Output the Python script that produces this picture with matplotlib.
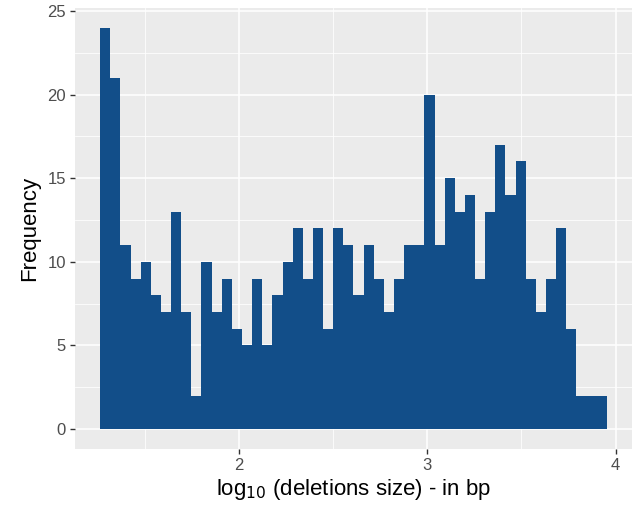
import numpy as np
import matplotlib.pyplot as plt

# histogram of log10 deletion sizes (counts)
counts = [24, 21, 11, 9, 10, 8, 7, 13, 7, 2,
          10, 7, 9, 6, 5, 9, 5, 8, 10, 12,
          9, 12, 6, 12, 11, 8, 11, 9, 7, 9,
          11, 11, 20, 11, 15, 13, 14, 9, 13, 17,
          14, 16, 9, 7, 9, 12, 6, 2, 2, 2]
bin_start = 1.263
bin_end = 3.953
x_ticks = [2, 3, 4]
y_ticks = [0, 5, 10, 15, 20, 25]

plt.rcParams['font.family'] = ['Liberation Sans', 'DejaVu Sans']

edges = np.linspace(bin_start, bin_end, len(counts) + 1)
width = edges[1] - edges[0]

fig = plt.figure(figsize=(6.34, 5.12), dpi=100)
ax = fig.add_axes([0.118, 0.123, 0.879, 0.862])
ax.set_facecolor('#EBEBEB')

ax.bar(edges[:-1], counts, width=width, align='edge', color='#124E89',
       linewidth=0, zorder=3)

span = bin_end - bin_start
ax.set_xlim(bin_start - 0.05 * span, bin_end + 0.05 * span)
ax.set_ylim(-0.05 * max(counts), max(counts) * 1.05)

ax.set_xticks(x_ticks)
ax.set_yticks(y_ticks)
ax.set_xticks([1.5, 2.5, 3.5], minor=True)
ax.set_yticks([2.5, 7.5, 12.5, 17.5, 22.5], minor=True)
ax.grid(which='major', color='white', linewidth=1.1, zorder=0)
ax.grid(which='minor', color='white', linewidth=0.55, zorder=0)
ax.set_axisbelow(True)

for s in ax.spines.values():
    s.set_visible(False)
ax.tick_params(which='major', length=3.5, width=1, color='#333333',
               labelcolor='#4D4D4D', labelsize=12, pad=3)
ax.tick_params(which='minor', length=0)

ax.set_xlabel(r'log$_{10}$ (deletions size) - in bp', fontsize=16, labelpad=3)
ax.set_ylabel('Frequency', fontsize=16, labelpad=5)

plt.savefig('out.png', dpi=100)
